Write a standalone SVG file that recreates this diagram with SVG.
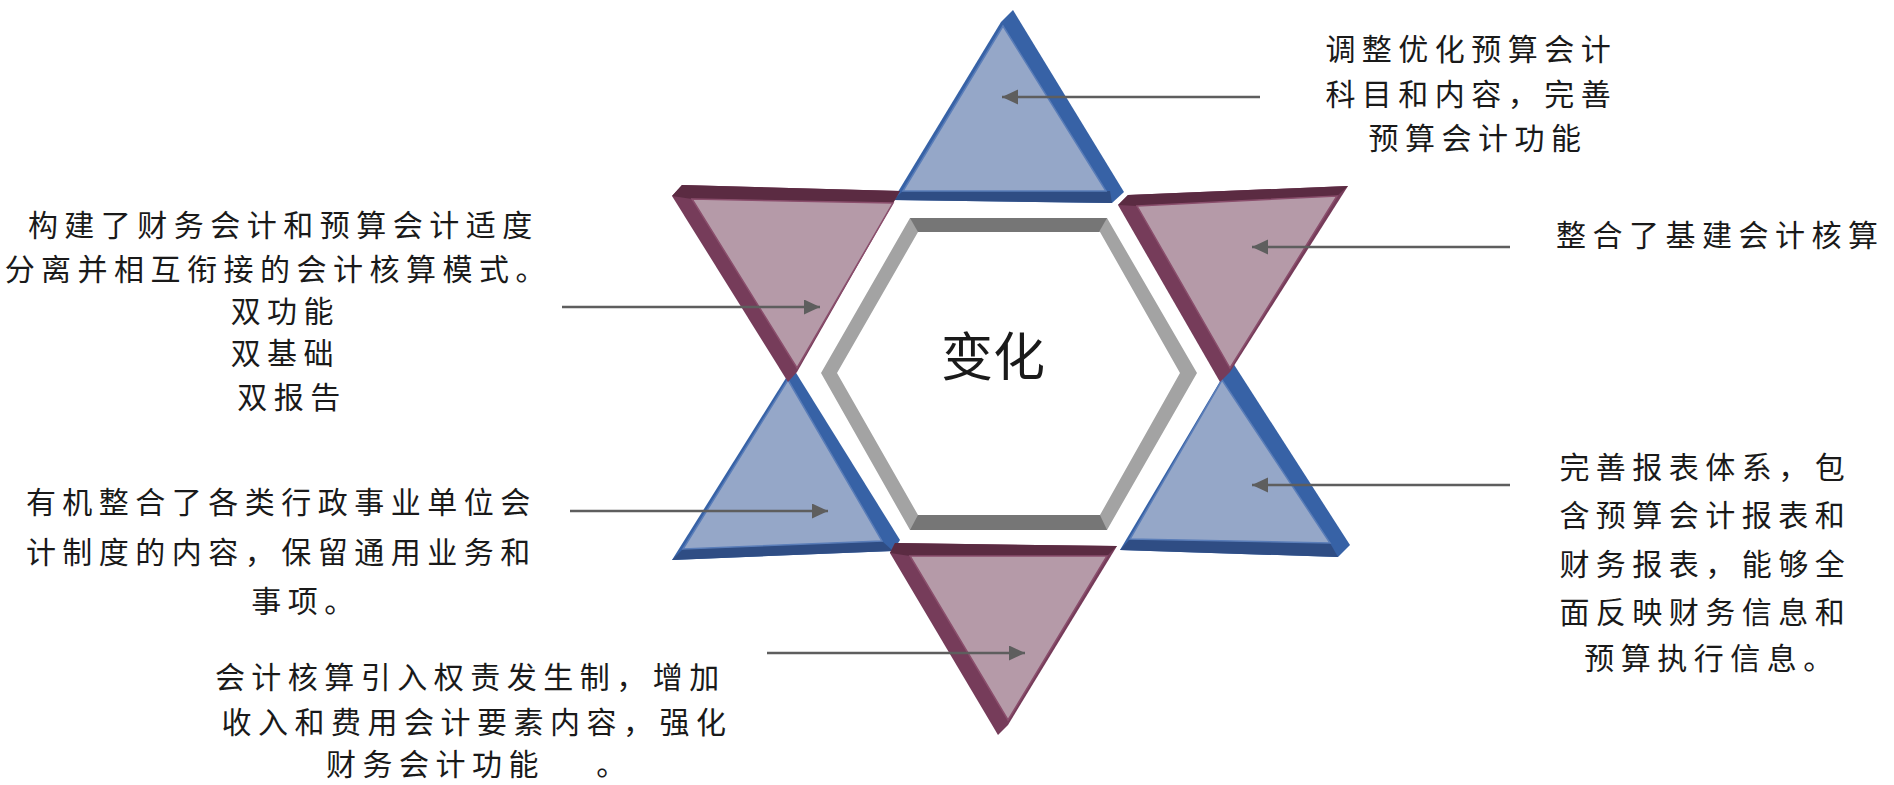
<svg xmlns="http://www.w3.org/2000/svg" width="1894" height="785" viewBox="0 0 1894 785">
<defs>
<style>
.bface{fill:#95A7C8;stroke:#5A7DB8;stroke-width:1.5}
.bband{fill:#3762A6}
.bdark{fill:#2F4D84}
.mface{fill:#B59AA8;stroke:#8A4E6C;stroke-width:1.5}
.mband{fill:#763C5A}
.mdark{fill:#5B2B42}
.hexside{fill:#A3A3A3;fill-rule:evenodd}
.hexdark{fill:#767676}
.lbl{font-family:"Noto Sans CJK SC","Noto Sans",sans-serif;font-size:30px;letter-spacing:6.5px;fill:#1a1a1a;text-anchor:middle;dominant-baseline:central}
.ctr{font-family:"Noto Sans CJK SC","Noto Sans",sans-serif;font-size:52px;fill:#1a1a1a;text-anchor:middle;dominant-baseline:central}
.conn{stroke:#5E5E5E;stroke-width:2.7;fill:none;marker-end:url(#ah)}
</style>
<marker id="ah" markerUnits="userSpaceOnUse" markerWidth="17" markerHeight="16" refX="16" refY="7.5" orient="auto">
<path d="M0,0 L16,7.5 L0,15 z" fill="#5E5E5E"/>
</marker>
</defs>
<rect width="1894" height="785" fill="#ffffff"/>

<g id="hexagon">
<path class="hexside" d="M910,218 L1107,218 L1197,373 L1107,530 L910,530 L821,373 Z M918,232 L837,373 L918,515 L1100,515 L1180,373 L1100,232 Z"/>
<polygon class="hexdark" points="910,218 1107,218 1099,232 918,232"/>
<polygon class="hexdark" points="918,515 1100,515 1107,530 910,530"/>
<text class="ctr" x="993" y="353">变化</text>
</g>

<g id="tri-top">
<polygon class="bband" points="1001,22 1013,10 1124,192 1112,203 893,200"/>
<polygon class="bdark" points="893,200 903,191 1110,191 1112,203"/>
<polygon class="bface" points="1003,26 903,191 1106,191"/>
</g>

<g id="tri-lower-left">
<polygon class="bband" points="786,378 793,368 900,540 893,551 672,560"/>
<polygon class="bdark" points="672,560 683,549 882,541 893,551"/>
<polygon class="bface" points="788,380 683,549 882,541"/>
</g>

<g id="tri-lower-right">
<polygon class="bband" points="1222,378 1233,363 1350,545 1338,557 1120,550"/>
<polygon class="bdark" points="1120,550 1130,539 1330,543 1338,557"/>
<polygon class="bface" points="1222,380 1130,539 1330,543"/>
</g>

<g id="tri-upper-left">
<polygon class="mband" points="682,185 900,191 797,372 788,382 672,196"/>
<polygon class="mdark" points="682,185 900,191 893,203 692,199 672,196"/>
<polygon class="mface" points="692,199 893,203 797,368"/>
</g>

<g id="tri-upper-right">
<polygon class="mband" points="1128,195 1348,186 1230,372 1220,382 1118,205"/>
<polygon class="mdark" points="1128,195 1348,186 1337,196 1137,206 1118,205"/>
<polygon class="mface" points="1137,206 1337,196 1230,368"/>
</g>

<g id="tri-bottom">
<polygon class="mband" points="895,543 1117,546 1008,725 998,735 890,553"/>
<polygon class="mdark" points="895,543 1117,546 1107,556 910,556 890,553"/>
<polygon class="mface" points="910,556 1107,556 1008,720"/>
</g>

<g id="connectors">
<line class="conn" x1="1260" y1="97" x2="1002" y2="97"/>
<line class="conn" x1="562" y1="307" x2="820" y2="307"/>
<line class="conn" x1="1510" y1="247" x2="1252" y2="247"/>
<line class="conn" x1="570" y1="511" x2="828" y2="511"/>
<line class="conn" x1="1510" y1="485" x2="1252" y2="485"/>
<line class="conn" x1="767" y1="653" x2="1025" y2="653"/>
</g>

<g id="label-top">
<text class="lbl">
<tspan x="1478" y="47">调整优化预算会计</tspan>
<tspan x="1478" y="92">科目和内容，完善</tspan>
<tspan x="1478" y="136">预算会计功能</tspan>
</text>
</g>

<g id="label-upper-right">
<text class="lbl" style="text-anchor:start" x="1556" y="233">整合了基建会计核算</text>
</g>

<g id="label-lower-right">
<text class="lbl">
<tspan x="1712" y="465">完善报表体系，包</tspan>
<tspan x="1712" y="513">含预算会计报表和</tspan>
<tspan x="1712" y="562">财务报表，能够全</tspan>
<tspan x="1712" y="610">面反映财务信息和</tspan>
<tspan x="1712" y="656">预算执行信息。</tspan>
</text>
</g>

<g id="label-upper-left">
<text class="lbl">
<tspan x="290" y="223">构建了财务会计和预算会计适度</tspan>
<tspan x="285" y="267">分离并相互衔接的会计核算模式。</tspan>
<tspan x="292" y="309">双功能</tspan>
<tspan x="292" y="351">双基础</tspan>
<tspan x="292" y="395">双报告</tspan>
</text>
</g>

<g id="label-lower-left">
<text class="lbl">
<tspan x="288" y="500">有机整合了各类行政事业单位会</tspan>
<tspan x="288" y="550">计制度的内容，保留通用业务和</tspan>
<tspan x="306" y="599">事项。</tspan>
</text>
</g>

<g id="label-bottom">
<text class="lbl">
<tspan x="477" y="675">会计核算引入权责发生制，增加</tspan>
<tspan x="477" y="720">收入和费用会计要素内容，强化</tspan>
</text>
<text class="lbl" style="text-anchor:start" x="326" y="762">财务会计功能 <tspan dx="38">。</tspan></text>
</g>
</svg>
